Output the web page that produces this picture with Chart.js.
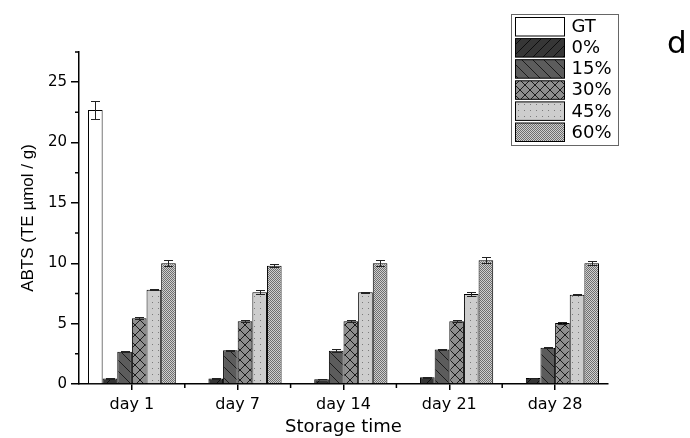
<!DOCTYPE html>
<html>
<head>
<meta charset="utf-8">
<script src="https://cdn.jsdelivr.net/npm/chart.js@4"></script>
<style>
  html, body { margin: 0; padding: 0; background: #fff; }
  #wrap { width: 690px; height: 438px; position: relative; }
</style>
</head>
<body>
<div id="wrap"><canvas id="ch"></canvas></div>
<script>
// values
var days = ["day 1", "day 7", "day 14", "day 21", "day 28"];
var names = ["GT", "0%", "15%", "30%", "45%", "60%"];

var gt  = [22.7, null, null, null, null];
var p0  = [0.45, 0.45, 0.4, 0.55, 0.5];
var p15 = [2.68, 2.8, 2.75, 2.85, 3.0];
var p30 = [5.45, 5.2, 5.2, 5.2, 5.05];
var p45 = [7.8, 7.6, 7.6, 7.45, 7.4];
var p60 = [10.0, 9.8, 10.0, 10.25, 10.0];

var errGt  = [0.75, null, null, null, null];
var err0   = [0.03, 0.02, 0.02, 0.05, 0.02];
var err15  = [0.05, 0.05, 0.12, 0.06, 0.05];
var err30  = [0.08, 0.06, 0.1, 0.1, 0.1];
var err45  = [0.05, 0.18, 0.05, 0.2, 0.05];
var err60  = [0.25, 0.15, 0.25, 0.25, 0.15];

var yTicks = [0, 5, 10, 15, 20, 25];

var canvas = document.getElementById("ch");
var ctx = canvas.getContext("2d");

function pattern(bg, size, draw) {
    var c = document.createElement("canvas");
    c.width = size; c.height = size;
    var x = c.getContext("2d");
    x.fillStyle = bg;
    x.fillRect(0, 0, size, size);
    draw(x, size);
    return ctx.createPattern(c, "repeat");
}

function slash(x, s) {
    x.beginPath();
    x.moveTo(0, s); x.lineTo(s, 0);
    x.moveTo(-2, 2); x.lineTo(2, -2);
    x.moveTo(s - 2, s + 2); x.lineTo(s + 2, s - 2);
    x.stroke();
}
function backslash(x, s) {
    x.beginPath();
    x.moveTo(0, 0); x.lineTo(s, s);
    x.moveTo(s - 2, -2); x.lineTo(s + 2, 2);
    x.moveTo(-2, s - 2); x.lineTo(2, s + 2);
    x.stroke();
}

var fills = [
    "#ffffff",
    pattern("#363636", 10, function (x, s) { x.strokeStyle = "#0d0d0d"; x.lineWidth = 1; slash(x, s); }),
    pattern("#5c5c5c", 11, function (x, s) { x.strokeStyle = "#1a1a1a"; x.lineWidth = 1; backslash(x, s); }),
    pattern("#8e8e8e", 10, function (x, s) { x.strokeStyle = "#1a1a1a"; x.lineWidth = 1; slash(x, s); backslash(x, s); }),
    pattern("#cdcdcd", 6, function (x, s) { x.fillStyle = "#7a7a7a"; x.fillRect(2, 2, 1, 1); }),
    pattern("#cfcfcf", 2, function (x, s) { x.fillStyle = "#6e6e6e"; x.fillRect(0, 0, 1, 1); x.fillRect(1, 1, 1, 1); })
];

var values = [gt, p0, p15, p30, p45, p60];
var errors = [errGt, err0, err15, err30, err45, err60];

var datasets = names.map(function (n, i) {
    return {
        label: n,
        data: values[i],
        backgroundColor: fills[i],
        borderColor: "#000",
        borderWidth: 1
    };
});

var errorBars = {
    id: "errorBars",
    afterDatasetsDraw: function (chart) {
        var c = chart.ctx;
        var y = chart.scales.y;
        c.save();
        c.strokeStyle = "#222";
        c.lineWidth = 1;
        chart.data.datasets.forEach(function (ds, i) {
            var meta = chart.getDatasetMeta(i);
            meta.data.forEach(function (bar, j) {
                var v = ds.data[j], e = errors[i][j];
                if (v == null || e == null) return;
                var top = Math.round(y.getPixelForValue(v + e)) + 0.5;
                var bot = Math.round(y.getPixelForValue(v - e)) + 0.5;
                var x = Math.round(bar.x) + 0.5;
                c.beginPath();
                c.moveTo(x, top); c.lineTo(x, bot);
                c.moveTo(x - 4.5, top); c.lineTo(x + 4.5, top);
                c.moveTo(x - 4.5, bot); c.lineTo(x + 4.5, bot);
                c.stroke();
            });
        });
        c.restore();
    }
};

var minorTicks = {
    id: "minorTicks",
    afterDraw: function (chart) {
        var c = chart.ctx;
        var x = chart.scales.x, y = chart.scales.y;
        var area = chart.chartArea;
        c.save();
        c.strokeStyle = "#000";
        c.lineWidth = 1.5;
        c.beginPath();
        for (var v = 2.5; v <= 27.5; v += 5) {
            var py = y.getPixelForValue(v);
            c.moveTo(area.left, py); c.lineTo(area.left - 4, py);
        }
        for (var k = 0; k < days.length - 1; k++) {
            var px = (x.getPixelForValue(k) + x.getPixelForValue(k + 1)) / 2;
            c.moveTo(px, area.bottom); c.lineTo(px, area.bottom + 4);
        }
        c.stroke();
        c.restore();
    }
};

var sideLegend = {
    id: "sideLegend",
    afterDraw: function (chart) {
        var c = chart.ctx;
        c.save();
        c.strokeStyle = "#666";
        c.lineWidth = 1;
        c.strokeRect(511.5, 14.5, 107, 131);
        c.font = "18px 'DejaVu Sans'";
        c.textBaseline = "middle";
        c.fillStyle = "#000";
        chart.data.datasets.forEach(function (ds, i) {
            var top = 17.5 + i * 21.1;
            c.fillStyle = ds.backgroundColor;
            c.fillRect(515.5, top, 49, 18.5);
            c.strokeStyle = "#000";
            c.strokeRect(515.5, top, 49, 18.5);
            c.fillStyle = "#000";
            c.fillText(ds.label, 571.5, top + 10);
        });
        c.font = "31px 'DejaVu Sans'";
        c.textBaseline = "alphabetic";
        c.fillText("d", 667, 53);
        c.restore();
    }
};

new Chart(canvas, {
    type: "bar",
    data: { labels: days, datasets: datasets },
    plugins: [errorBars, minorTicks, sideLegend],
    options: {
        responsive: true,
        maintainAspectRatio: false,
        animation: false,
        layout: { padding: { top: 52, right: 82, left: 0, bottom: 0 } },
        datasets: { bar: { categoryPercentage: 0.83, barPercentage: 1 } },
        plugins: { legend: { display: false }, tooltip: { enabled: false } },
        scales: {
            x: {
                afterFit: function (s) { s.height = 54; },
                grid: { offset: false, drawOnChartArea: false, tickLength: 6, color: "#000", lineWidth: 1.5 },
                border: { color: "#000", width: 1.5 },
                ticks: { color: "#000", padding: 5, font: { family: "DejaVu Sans", size: 16 }, maxRotation: 0 },
                title: { display: true, text: "Storage time", color: "#000", padding: { top: 0, bottom: 0 },
                         font: { family: "DejaVu Sans", size: 18 } }
            },
            y: {
                min: 0,
                max: 27.5,
                afterFit: function (s) { s.width = 79; },
                afterBuildTicks: function (s) {
                    s.ticks = yTicks.map(function (v) { return { value: v }; });
                },
                grid: { drawOnChartArea: false, tickLength: 8, color: "#000", lineWidth: 1.5 },
                border: { color: "#000", width: 1.5 },
                ticks: { color: "#000", padding: 4, font: { family: "DejaVu Sans", size: 15 } },
                title: { display: true, text: "ABTS (TE µmol / g)", color: "#000", padding: { top: 18, bottom: 0 },
                         font: { family: "Liberation Sans", size: 17 } }
            }
        }
    }
});
</script>
</body>
</html>
